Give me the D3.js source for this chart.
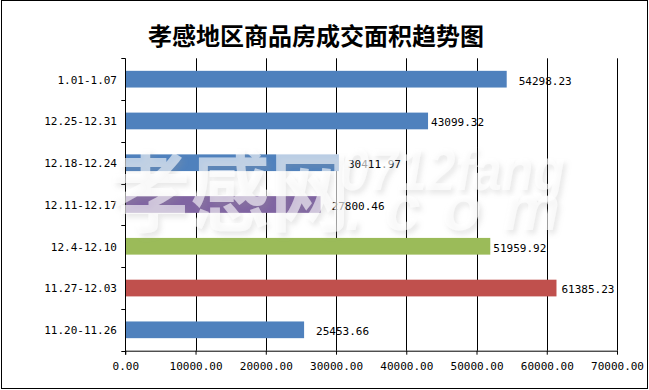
<!DOCTYPE html>
<html>
<head>
<meta charset="utf-8">
<script src="https://cdn.jsdelivr.net/npm/d3@7"></script>
<style>
  html, body { margin: 0; padding: 0; background: #fff; }
  svg { display: block; }
</style>
</head>
<body>
<svg id="chart" width="649" height="390"></svg>
<script>
// ---- data ----
const title = "孝感地区商品房成交面积趋势图";
const categories = ["1.01-1.07", "12.25-12.31", "12.18-12.24", "12.11-12.17", "12.4-12.10", "11.27-12.03", "11.20-11.26"];
const values = [54298.23, 43099.32, 30411.97, 27800.46, 51959.92, 61385.23, 25453.66];
const barColors = ["#4F81BD", "#4F81BD", "#4F81BD", "#8064A2", "#9BBB59", "#C0504D", "#4F81BD"];
const xTicks = [0, 10000, 20000, 30000, 40000, 50000, 60000, 70000];
const labelDx = [12, 3, 9, 11, 3, 5, 12];

// ---- layout ----
const svg = d3.select("#chart");
const L = 125.3, R = 617, T = 58.3, B = 350.7;
const monoFont = "'DejaVu Sans Mono', 'Liberation Mono', monospace";

const x = d3.scaleLinear().domain([0, 70000]).range([L, R]);
const y = d3.scaleBand().domain(categories).range([T, B]).paddingInner(0.6).paddingOuter(0.3);
const yb = d3.scaleBand().domain(categories).range([T, B]);

// outer frame
svg.append("rect").attr("x", 1.5).attr("y", 0.5).attr("width", 646).attr("height", 388)
  .attr("fill", "none").attr("stroke", "#000").attr("stroke-width", 1);

// title
svg.append("text").attr("x", 316).attr("y", 45).attr("text-anchor", "middle")
  .attr("font-family", "'Noto Sans CJK SC', sans-serif").attr("font-weight", "bold")
  .attr("font-size", 24).attr("fill", "#000").text(title);

// gridlines
svg.append("g").selectAll("line").data(xTicks.slice(1)).join("line")
  .attr("x1", d => Math.round(x(d)) + 0.5).attr("x2", d => Math.round(x(d)) + 0.5)
  .attr("y1", T).attr("y2", B).attr("stroke", "#000").attr("stroke-width", 1);

// bars
svg.append("g").selectAll("rect").data(categories).join("rect")
  .attr("x", x(0)).attr("y", (d) => y(d))
  .attr("width", (d, i) => x(values[i]) - x(0))
  .attr("height", y.bandwidth())
  .attr("fill", (d, i) => barColors[i]);

// value labels
svg.append("g").selectAll("text").data(categories).join("text")
  .attr("x", (d, i) => x(values[i]) + labelDx[i])
  .attr("y", d => y(d) + y.bandwidth() / 2 + 1.5)
  .attr("dy", "0.35em")
  .attr("font-family", monoFont).attr("font-size", 11).attr("fill", "#000")
  .text((d, i) => values[i].toFixed(2));

// bottom axis
const xAxis = d3.axisBottom(x).tickValues(xTicks).tickSize(4).tickPadding(8)
  .tickFormat(d => d3.format(".2f")(d));
const gx = svg.append("g").attr("transform", `translate(0,${B})`).call(xAxis);
gx.select(".domain").attr("stroke", "#000").attr("d", `M${x(0)},0.5H${x(70000)}`);
gx.selectAll(".tick line").attr("stroke", "#000");
gx.selectAll(".tick text").attr("font-family", monoFont).attr("font-size", 11).attr("fill", "#000");

// left axis
const ga = svg.append("g");
ga.append("line").attr("x1", Math.round(L) + 0.5).attr("x2", Math.round(L) + 0.5)
  .attr("y1", T).attr("y2", B + 4).attr("stroke", "#000");
const bounds = categories.map(c => yb(c)).concat([yb(categories[categories.length - 1]) + yb.bandwidth()]);
ga.selectAll("line.tk").data(bounds).join("line").attr("class", "tk")
  .attr("x1", L - 4).attr("x2", L)
  .attr("y1", d => Math.round(d) + 0.5).attr("y2", d => Math.round(d) + 0.5)
  .attr("stroke", "#000");
ga.selectAll("text").data(categories).join("text")
  .attr("x", 117).attr("y", d => yb(d) + yb.bandwidth() / 2 + 0.5)
  .attr("dy", "0.35em").attr("text-anchor", "end")
  .attr("font-family", monoFont).attr("font-size", 11).attr("fill", "#000")
  .text(d => d);

// watermark (semi-transparent white with soft shadow)
const defs = svg.append("defs");
const f = defs.append("filter").attr("id", "wmShadow").attr("x", "-20%").attr("y", "-20%").attr("width", "140%").attr("height", "140%");
f.append("feDropShadow").attr("dx", 3).attr("dy", 4).attr("stdDeviation", 2.5)
  .attr("flood-color", "#999").attr("flood-opacity", 0.35);
const wm = svg.append("g").attr("filter", "url(#wmShadow)").attr("fill", "#fff").attr("fill-opacity", 0.6)
  .attr("pointer-events", "none");
wm.append("text").attr("x", 110).attr("y", 224)
  .attr("font-family", "'Noto Sans CJK SC', sans-serif").attr("font-weight", "bold")
  .attr("font-size", 88).attr("textLength", 240).attr("lengthAdjust", "spacingAndGlyphs").text("孝感网");
wm.append("text").attr("x", 340).attr("y", 190)
  .attr("font-family", "'Liberation Sans', Arial, sans-serif").attr("font-weight", "bold").attr("font-style", "italic")
  .attr("font-size", 60).attr("textLength", 225).attr("lengthAdjust", "spacingAndGlyphs").text("0712fang");
wm.append("text").attr("x", 345).attr("y", 230)
  .attr("font-family", "'Liberation Sans', Arial, sans-serif").attr("font-weight", "bold").attr("font-style", "italic")
  .attr("font-size", 64).attr("textLength", 215).text(".com");
</script>
</body>
</html>
